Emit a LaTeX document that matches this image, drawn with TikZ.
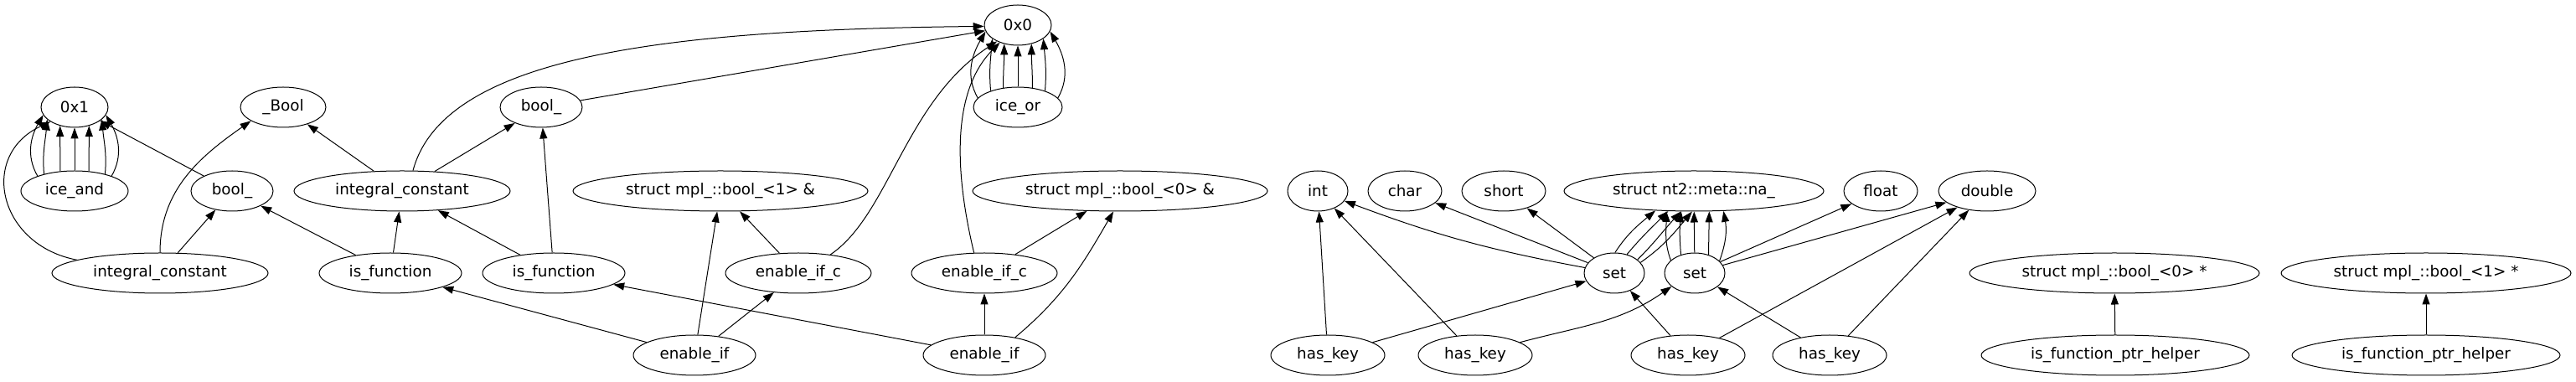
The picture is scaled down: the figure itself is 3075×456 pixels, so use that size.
\documentclass[tikz,border=0pt]{standalone}
\usepackage{fontspec}
\setmainfont{DejaVu Sans}
\usetikzlibrary{arrows.meta,shapes.geometric}
\begin{document}
\begin{tikzpicture}[x=0.75pt, y=0.75pt,
  cls/.style={draw, ellipse, line width=0.75pt, inner sep=0pt, minimum height=36pt, font=\fontsize{13.75}{16}\selectfont},
  dep/.style={-{Triangle[length=9.75pt, width=6.75pt]}, line width=0.75pt}]
  \useasboundingbox (0, 0) rectangle (3075, 456);
  \node[cls, minimum width=60pt] (hex0) at (1215, 426) {0x0};
  \node[cls, minimum width=60pt] (hex1) at (89, 328) {0x1};
  \node[cls, minimum width=76.5pt] (boolc) at (338, 328) {\_Bool};
  \node[cls, minimum width=73.5pt] (boolA) at (646, 328) {bool\_};
  \node[cls, minimum width=79.5pt] (iceor) at (1215, 328) {ice\_or};
  \node[cls, minimum width=96pt] (iceand) at (89, 228) {ice\_and};
  \node[cls, minimum width=73.5pt] (boolB) at (277, 228) {bool\_};
  \node[cls, minimum width=193.5pt] (intcA) at (480, 228) {integral\_constant};
  \node[cls, minimum width=264pt] (refone) at (860, 228) {struct mpl\_::bool\_<1> \&};
  \node[cls, minimum width=264pt] (refzero) at (1337, 228) {struct mpl\_::bool\_<0> \&};
  \node[cls, minimum width=54pt] (tint) at (1573, 228) {int};
  \node[cls, minimum width=66pt] (tchar) at (1677, 228) {char};
  \node[cls, minimum width=75pt] (tshort) at (1795, 228) {short};
  \node[cls, minimum width=232.5pt] (na) at (2022, 228) {struct nt2::meta::na\_};
  \node[cls, minimum width=66pt] (tfloat) at (2245, 228) {float};
  \node[cls, minimum width=87pt] (tdouble) at (2372, 228) {double};
  \node[cls, minimum width=193.5pt] (intcB) at (191, 130) {integral\_constant};
  \node[cls, minimum width=127.5pt] (isfunA) at (466, 130) {is\_function};
  \node[cls, minimum width=127.5pt] (isfunB) at (661, 130) {is\_function};
  \node[cls, minimum width=130.5pt] (eicA) at (953, 130) {enable\_if\_c};
  \node[cls, minimum width=130.5pt] (eicB) at (1175, 130) {enable\_if\_c};
  \node[cls, minimum width=54pt] (setA) at (1927, 130) {set};
  \node[cls, minimum width=54pt] (setB) at (2023, 130) {set};
  \node[cls, minimum width=259.5pt] (ptrzero) at (2524, 130) {struct mpl\_::bool\_<0> *};
  \node[cls, minimum width=259.5pt] (ptrone) at (2896, 130) {struct mpl\_::bool\_<1> *};
  \node[cls, minimum width=109.5pt] (enifA) at (829, 32) {enable\_if};
  \node[cls, minimum width=109.5pt] (enifB) at (1175, 32) {enable\_if};
  \node[cls, minimum width=102pt] (hkA) at (1585, 32) {has\_key};
  \node[cls, minimum width=102pt] (hkB) at (1761, 32) {has\_key};
  \node[cls, minimum width=102pt] (hkC) at (2015, 32) {has\_key};
  \node[cls, minimum width=102pt] (hkD) at (2184, 32) {has\_key};
  \node[cls, minimum width=240pt] (helpA) at (2525, 32) {is\_function\_ptr\_helper};
  \node[cls, minimum width=240pt] (helpB) at (2896, 32) {is\_function\_ptr\_helper};
  \draw[dep] (iceand) -- (hex1);
  \draw[dep] (iceand.54) to[out=90, in=270] (hex1.308);
  \draw[dep] (iceand.126) to[out=90, in=270] (hex1.232);
  \draw[dep] (iceand.29) to[out=85, in=275] (hex1.336);
  \draw[dep] (iceand.151) to[out=95, in=265] (hex1.204);
  \draw[dep] (iceand.22) to[out=60, in=300] (hex1.346);
  \draw[dep] (iceand.158) to[out=120, in=240] (hex1.194);
  \draw[dep] (intcB.171) .. controls +(-94, 18) and +(-86, -40) .. (hex1.211);
  \draw[dep] (intcB.90) to[out=90, in=215] (boolc.203);
  \draw[dep] (intcB) -- (boolB);
  \draw[dep] (boolB) -- (hex1);
  \draw[dep] (intcA) -- (boolc);
  \draw[dep] (intcA) -- (boolA);
  \draw[dep] (intcA.62) .. controls +(37, 138) and +(-375, -4) .. (hex0.182);
  \draw[dep] (isfunA) -- (boolB);
  \draw[dep] (isfunA) -- (intcA);
  \draw[dep] (isfunB) -- (intcA);
  \draw[dep] (isfunB) -- (boolA);
  \draw[dep] (boolA) -- (hex0);
  \draw[dep] (iceor) -- (hex0);
  \draw[dep] (iceor.53) to[out=90, in=270] (hex0.306);
  \draw[dep] (iceor.127) to[out=90, in=270] (hex0.234);
  \draw[dep] (iceor.31) to[out=85, in=275] (hex0.332);
  \draw[dep] (iceor.149) to[out=95, in=265] (hex0.208);
  \draw[dep] (iceor.13) to[out=60, in=300] (hex0.349);
  \draw[dep] (iceor.167) to[out=120, in=240] (hex0.191);
  \draw[dep] (enifA) -- (isfunA);
  \draw[dep] (enifA) -- (refone);
  \draw[dep] (enifA) -- (eicA);
  \draw[dep] (eicA) -- (refone);
  \draw[dep] (eicA.30) .. controls +(70, 47) and +(-110, -72) .. (hex0.218);
  \draw[dep] (enifB) -- (isfunB);
  \draw[dep] (enifB) -- (eicB);
  \draw[dep] (enifB.30) to[out=40, in=240] (refzero.252);
  \draw[dep] (eicB) -- (refzero);
  \draw[dep] (eicB.117) .. controls +(-23, 96) and +(-58, -59) .. (hex0.224);
  \draw[dep] (hkA) -- (tint);
  \draw[dep] (hkA) -- (setA);
  \draw[dep] (hkB) -- (tint);
  \draw[dep] (hkB.16) to[out=15, in=215] (setB.210);
  \draw[dep] (hkC) -- (setA);
  \draw[dep] (hkC) -- (tdouble);
  \draw[dep] (hkD) -- (setB);
  \draw[dep] (hkD) -- (tdouble);
  \draw[dep] (setA) to[bend left=5] (tint);
  \draw[dep] (setA) -- (tchar);
  \draw[dep] (setA) -- (tshort);
  \draw[dep] (setA.88) to[out=57, in=220] (na.207);
  \draw[dep] (setA.56) to[out=50, in=225] (na.218);
  \draw[dep] (setA.30) to[out=45, in=227] (na.238);
  \draw[dep] (setA.22) to[out=35, in=230] (na.265);
  \draw[dep] (setB.152) to[out=110, in=270] (na.216);
  \draw[dep] (setB.127) to[out=95, in=265] (na.238);
  \draw[dep] (setB) -- (na);
  \draw[dep] (setB.53) -- (na.307);
  \draw[dep] (setB.26) to[out=70, in=280] (na.326);
  \draw[dep] (setB) -- (tfloat);
  \draw[dep] (setB) -- (tdouble);
  \draw[dep] (helpA) -- (ptrzero);
  \draw[dep] (helpB) -- (ptrone);
\end{tikzpicture}
\end{document}
